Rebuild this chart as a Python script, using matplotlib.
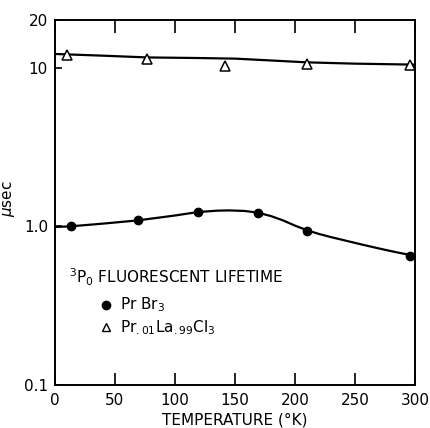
import matplotlib.pyplot as plt
from matplotlib.ticker import FixedLocator, NullLocator

# measured points
prbr3_T = [13, 69, 119, 169, 210, 296]
prbr3_tau = [1.0, 1.09, 1.24, 1.22, 0.93, 0.65]

prla_T = [10, 77, 142, 210, 296]
prla_tau = [12.1, 11.3, 10.3, 10.5, 10.4]

# drawn smooth curves
prbr3_curve_T = [0, 13, 40, 69, 100, 119, 135, 145, 158, 169, 180, 190, 200, 210, 220, 230, 240, 255, 270, 285, 296]
prbr3_curve_tau = [0.99, 1.0, 1.04, 1.09, 1.17, 1.23, 1.255, 1.26, 1.25, 1.22, 1.16, 1.09, 1.01, 0.945, 0.895, 0.855, 0.82, 0.77, 0.725, 0.685, 0.66]

prla_curve_T = [0, 40, 77, 120, 150, 180, 210, 250, 300]
prla_curve_tau = [12.2, 11.9, 11.6, 11.5, 11.4, 11.1, 10.8, 10.6, 10.45]

x_ticks = [0, 50, 100, 150, 200, 250, 300]
y_ticks = [0.1, 1.0, 10, 20]
y_tick_labels = ["0.1", "1.0", "10", "20"]

plt.rcParams["font.family"] = "DejaVu Sans"

fig = plt.figure(figsize=(4.31, 4.28), dpi=100)
ax = fig.add_axes([0.1276, 0.1005, 0.8353, 0.853])

ax.plot(prbr3_curve_T, prbr3_curve_tau, color="black", linewidth=1.6)
ax.plot(prla_curve_T, prla_curve_tau, color="black", linewidth=1.6)
ax.plot(prbr3_T, prbr3_tau, "o", color="black", markersize=6, zorder=3)
ax.plot(prla_T, prla_tau, "^", markerfacecolor="white", markeredgecolor="black",
        markersize=7, markeredgewidth=1.1, zorder=3)

ax.set_yscale("log")
ax.set_xlim(0, 300)
ax.set_ylim(0.1, 20)

ax.xaxis.set_major_locator(FixedLocator(x_ticks))
ax.yaxis.set_major_locator(FixedLocator(y_ticks))
ax.yaxis.set_minor_locator(NullLocator())
ax.set_yticklabels(y_tick_labels)
ax.tick_params(axis="x", which="major", direction="in", length=9, width=1.2,
               top=True, labelsize=11, pad=6)
ax.tick_params(axis="y", which="major", direction="in", length=5, width=1.2,
               labelsize=11, pad=5)
for s in ax.spines.values():
    s.set_linewidth(1.4)

ax.set_xlabel("TEMPERATURE (°K)", fontsize=11, labelpad=3)
ax.set_ylabel(r"$\mu$sec", fontsize=11)
ax.yaxis.set_label_coords(-0.105, 0.51)

ax.text(0.04, 0.295, r"$^{3}$P$_{0}$ FLUORESCENT LIFETIME", transform=ax.transAxes,
        fontsize=11, va="center")
ax.plot([0.143], [0.219], "o", color="black", markersize=6, transform=ax.transAxes, clip_on=False)
ax.text(0.18, 0.219, r"Pr Br$_3$", transform=ax.transAxes, fontsize=11, va="center")
ax.plot([0.143], [0.159], "^", markerfacecolor="white", markeredgecolor="black",
        markersize=6, transform=ax.transAxes, clip_on=False)
ax.text(0.18, 0.157, r"Pr$_{.01}$La$_{.99}$Cl$_3$", transform=ax.transAxes, fontsize=11, va="center")

fig.savefig("out.png", dpi=100)
